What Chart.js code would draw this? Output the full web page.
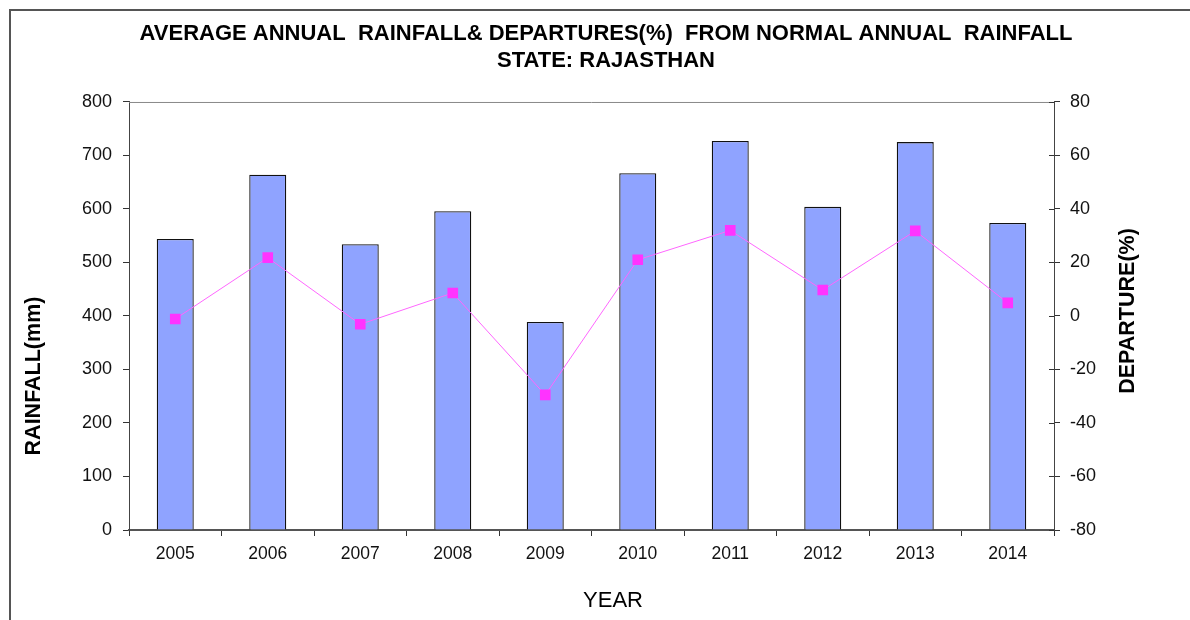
<!DOCTYPE html>
<html lang="en">
<head>
    <meta charset="UTF-8">
    <title>Rajasthan Rainfall & Departures</title>
    <script src="https://cdn.jsdelivr.net/npm/chart.js"></script>
    <style>
        html, body { margin: 0; padding: 0; background: #fff; }
        #wrap { position: relative; width: 1190px; height: 620px; }
        #frame { position: absolute; left: 9px; top: 9px; right: 0; bottom: 0; border-left: 2px solid #555; border-top: 2px solid #555; }
        #wrap canvas { position: absolute; left: 0; top: 0; }
    </style>
</head>
<body>
    <div id="wrap">
        <div id="frame"></div>
        <canvas id="rainChart" width="1190" height="620"></canvas>
    </div>
    <script>
        // values
        const years = ['2005', '2006', '2007', '2008', '2009', '2010', '2011', '2012', '2013', '2014'];
        const rainfall = [544, 664, 534, 596, 389, 667, 727, 604, 725, 574];   // mm
        const departure = [-1.1, 21.8, -3.1, 8.6, -29.5, 21, 32, 9.7, 31.8, 4.9]; // %

        const FONT = "'Liberation Sans', Arial, sans-serif";

        // axis titles + top border of plot area + inner half of right ticks
        const extras = {
            id: 'extras',
            beforeDatasetsDraw(chart) {
                const { ctx, chartArea } = chart;
                ctx.save();
                ctx.strokeStyle = '#888';
                ctx.lineWidth = 1;
                ctx.beginPath();
                ctx.moveTo(chartArea.left, chartArea.top + 0.5);
                ctx.lineTo(chartArea.right, chartArea.top + 0.5);
                ctx.stroke();
                // right axis ticks cross the axis
                const y1 = chart.scales.y1;
                ctx.strokeStyle = '#333';
                ctx.beginPath();
                y1.ticks.forEach(t => {
                    const py = Math.round(y1.getPixelForValue(t.value)) + 0.5;
                    ctx.moveTo(chartArea.right - 5, py);
                    ctx.lineTo(chartArea.right, py);
                });
                ctx.stroke();
                ctx.restore();
            },
            afterDraw(chart) {
                const ctx = chart.ctx;
                ctx.save();
                ctx.fillStyle = '#000';
                ctx.textAlign = 'center';
                ctx.textBaseline = 'middle';

                ctx.font = 'bold 21.5px ' + FONT;
                ctx.save();
                ctx.translate(34, 376);
                ctx.rotate(-Math.PI / 2);
                ctx.fillText('RAINFALL(mm)', 0, 0);
                ctx.restore();

                ctx.save();
                ctx.translate(1128, 311);
                ctx.rotate(-Math.PI / 2);
                ctx.fillText('DEPARTURE(%)', 0, 0);
                ctx.restore();

                ctx.font = '22px ' + FONT;
                ctx.fillText('YEAR', 613, 601);
                ctx.restore();
            }
        };

        const ctx = document.getElementById('rainChart').getContext('2d');
        new Chart(ctx, {
            data: {
                labels: years,
                datasets: [
                    {
                        type: 'line',
                        label: 'Departure (%)',
                        data: departure,
                        yAxisID: 'y1',
                        borderColor: '#ff66ff',
                        borderWidth: 1,
                        pointStyle: 'rect',
                        pointRadius: 7.5,
                        pointBorderWidth: 0,
                        pointBackgroundColor: '#ff33ff',
                        tension: 0,
                        order: 0
                    },
                    {
                        type: 'bar',
                        label: 'Rainfall (mm)',
                        data: rainfall,
                        yAxisID: 'y',
                        backgroundColor: '#8fa3ff',
                        borderColor: '#111',
                        borderWidth: 1.3,
                        categoryPercentage: 1,
                        barPercentage: 0.4,
                        order: 1
                    }
                ]
            },
            options: {
                responsive: false,
                animation: false,
                layout: { padding: { left: 22, right: 0, top: 0, bottom: 0 } },
                plugins: {
                    legend: { display: false },
                    tooltip: { enabled: false },
                    title: {
                        display: true,
                        text: ['AVERAGE ANNUAL  RAINFALL& DEPARTURES(%)  FROM NORMAL ANNUAL  RAINFALL', 'STATE: RAJASTHAN'],
                        color: '#000',
                        font: { family: FONT, size: 22, weight: 'bold', lineHeight: 1.22 },
                        padding: { top: 21, bottom: 27.3 }
                    }
                },
                scales: {
                    x: {
                        offset: true,
                        grid: { offset: true, drawOnChartArea: false, color: '#333', tickLength: 6 },
                        border: { color: '#555', width: 2 },
                        ticks: { color: '#111', padding: 8, font: { family: FONT, size: 17.5 } },
                        afterFit(scale) { scale.height = 90; }
                    },
                    y: {
                        position: 'left',
                        min: 0,
                        max: 800,
                        ticks: { stepSize: 100, color: '#111', padding: 11, font: { family: FONT, size: 18 } },
                        grid: { drawOnChartArea: false, color: '#333', tickLength: 6 },
                        border: { color: '#444', width: 1 },
                        afterFit(scale) { scale.width = 107; }
                    },
                    y1: {
                        position: 'right',
                        min: -80,
                        max: 80,
                        ticks: { stepSize: 20, color: '#111', padding: 10, font: { family: FONT, size: 18 } },
                        grid: { drawOnChartArea: false, color: '#333', tickLength: 6 },
                        border: { color: '#444', width: 1 },
                        afterFit(scale) { scale.width = 136; }
                    }
                }
            },
            plugins: [extras]
        });
    </script>
</body>
</html>
